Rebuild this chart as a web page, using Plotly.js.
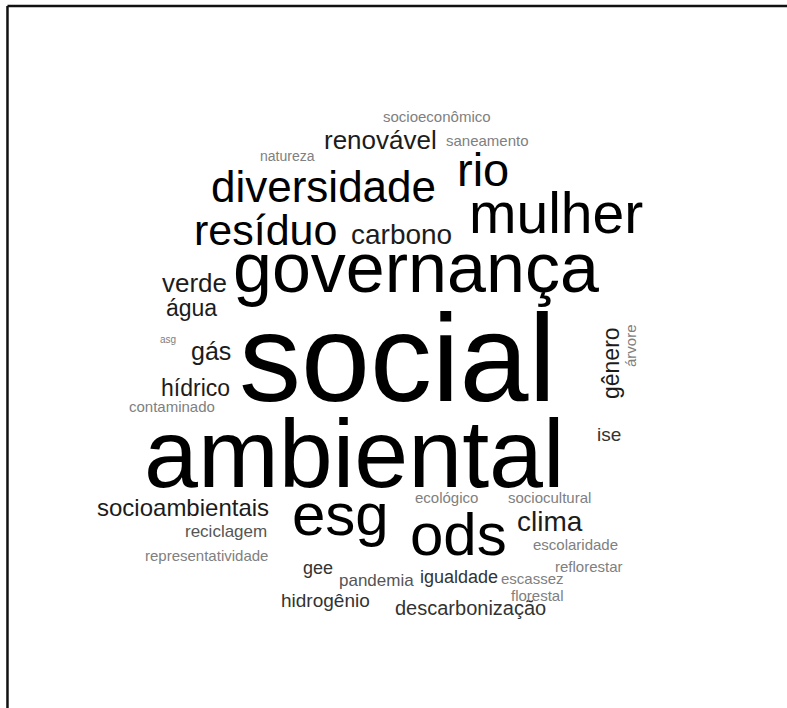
<!DOCTYPE html>
<html>
<head>
<meta charset="utf-8">
<script src="https://cdn.plot.ly/plotly-3.0.1.min.js"></script>
<style>
  html, body { margin: 0; padding: 0; background: #ffffff; }
  #chart { width: 787px; height: 708px; }
</style>
</head>
<body>
<div id="chart"></div>
<script>
// ---- data: words and their frequencies (weights) ----
const words = ["social", "ambiental", "governança", "esg", "ods", "mulher", "rio",
  "diversidade", "resíduo", "carbono", "clima", "renovável", "verde", "gás",
  "água", "hídrico", "gênero", "socioambientais", "descarbonização", "hidrogênio",
  "ise", "gee", "igualdade", "pandemia", "reciclagem", "árvore", "socioeconômico",
  "saneamento", "natureza", "contaminado", "representatividade", "ecológico",
  "sociocultural", "escolaridade", "reflorestar", "escassez", "florestal", "asg"];
const freq = [114, 87, 60, 50, 50, 47, 37,
  34, 33, 18, 18, 16, 16, 15,
  13, 13, 13, 14, 10, 9,
  9, 8, 8, 7, 7, 5, 5,
  5, 4, 5, 5, 5,
  5, 5, 5, 5, 5, 0];

// ---- layout of the cloud (placement of each word, in pixels) ----
const posX = [397, 354, 416, 340, 458, 556, 483,
  323, 265, 401, 550, 380, 194, 211,
  191, 195, 611, 183, 470, 325,
  609, 318, 459, 376, 226, 630, 437,
  487, 287, 172, 206, 446,
  549, 575, 589, 532, 537, 168];
const posBase = [405, 490, 295, 537, 557, 235, 187,
  203, 246, 245, 532, 150, 293, 360,
  317, 397, 363, 517, 616, 608,
  442, 575, 584, 587, 538, 346, 122,
  146, 161, 412, 561, 503,
  503, 550, 572, 584, 601, 343];
const angle = [0, 0, 0, 0, 0, 0, 0,
  0, 0, 0, 0, 0, 0, 0,
  0, 0, -90, 0, 0, 0,
  0, 0, 0, 0, 0, -90, 0,
  0, 0, 0, 0, 0,
  0, 0, 0, 0, 0, 0];

function sizeOf(f) { return 10 + f; }
function colorOf(f) {
  if (f >= 30) return "#000000";
  if (f >= 13) return "#1c1c1c";
  if (f >= 8) return "#333333";
  if (f >= 7) return "#555555";
  return "#808080";
}

const annotations = words.map((w, i) => {
  const s = sizeOf(freq[i]);
  const rot = angle[i] !== 0;
  return {
    x: posX[i],
    y: rot ? posBase[i] : posBase[i] - 0.38 * s,
    xref: "x", yref: "y",
    text: w,
    showarrow: false,
    xanchor: "center", yanchor: "middle",
    textangle: angle[i],
    font: { family: "Liberation Sans, Arial, sans-serif", size: s, color: colorOf(freq[i]) }
  };
});

const layout = {
  width: 787, height: 708,
  margin: { l: 0, r: 0, t: 0, b: 0 },
  paper_bgcolor: "#ffffff", plot_bgcolor: "#ffffff",
  showlegend: false,
  xaxis: { range: [0, 787], visible: false, fixedrange: true },
  yaxis: { range: [708, 0], visible: false, fixedrange: true },
  annotations: annotations,
  shapes: [
    { type: "line", xref: "paper", yref: "paper", x0: 0.0095, x1: 0.0095, y0: 0, y1: 0.9915,
      line: { color: "#111111", width: 2.5 } },
    { type: "line", xref: "paper", yref: "paper", x0: 0.0095, x1: 1, y0: 0.9915, y1: 0.9915,
      line: { color: "#111111", width: 2.5 } }
  ]
};

Plotly.newPlot("chart", [{ x: [], y: [], type: "scatter", mode: "markers", hoverinfo: "skip" }], layout,
  { staticPlot: true, displayModeBar: false });
</script>
</body>
</html>
